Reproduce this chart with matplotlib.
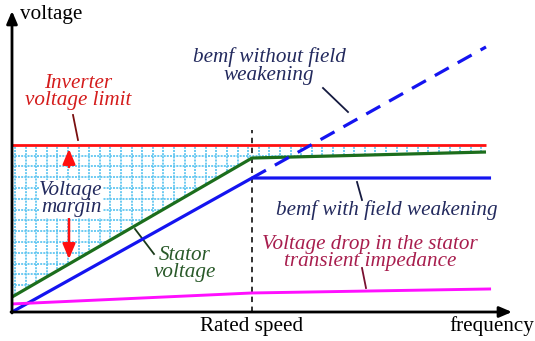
import numpy as np
import matplotlib
matplotlib.use("Agg")
import matplotlib.pyplot as plt
from matplotlib.patches import Polygon
from matplotlib.collections import LineCollection

plt.rcParams['font.family'] = ['Liberation Serif', 'DejaVu Serif']

# ---- data (frequency in p.u. of rated speed, voltage in p.u. of rated bemf) ----
freq_limit = [0.0, 1.975]
inverter_limit = [1.246, 1.246]

freq_stator = [0.0, 1.0, 1.975]
stator_voltage = [0.112, 1.149, 1.194]

freq_bemf_fw = [0.0, 1.0, 1.996]
bemf_with_fw = [0.0, 1.0, 1.0]

freq_bemf_nofw = [1.0, 1.975]
bemf_without_fw = [1.0, 1.978]

freq_drop = [0.0, 1.0, 1.996]
voltage_drop = [0.06, 0.142, 0.172]

rated_speed = 1.0

# ---- layout helpers (pixel -> data), origin at pixel (12, 312) ----
PX_X = 240.0
PX_Y = 134.0
def P(x, y):
    return ((x - 12) / PX_X, (312 - y) / PX_Y)

fig = plt.figure(figsize=(5.35, 3.41), dpi=100)
ax = fig.add_axes([0, 0, 1, 1])
ax.set_xlim(-12 / PX_X, 523 / PX_X)
ax.set_ylim((312 - 341) / PX_Y, 312 / PX_Y)
ax.axis('off')

# ---- hatched (grid) voltage margin region ----
lower = np.column_stack([freq_stator, stator_voltage])
upper = np.column_stack([freq_limit, inverter_limit])[::-1]
region = Polygon(np.vstack([lower, upper]), closed=True, fc='none', ec='none')
ax.add_patch(region)
grid_col = '#55c2f0'
gx = np.arange(3 / PX_X, 2.0, 10.6 / PX_X)
gy = np.arange(1.246 - 10.6 / PX_Y, 0.0, -10.8 / PX_Y)
segs = [[(x, -1), (x, 3)] for x in gx] + [[(-1, y), (3, y)] for y in gy]
lc = LineCollection(segs, colors=grid_col, linewidths=1.2, linestyles=(0, (1.2, 0.7)), zorder=1)
ax.add_collection(lc)
lc.set_clip_path(region)

# ---- curves ----
ax.plot(freq_limit, inverter_limit, color='#ff1010', lw=2.0, zorder=3, solid_capstyle='butt')
ax.plot(freq_stator, stator_voltage, color='#1c6e1c', lw=2.3, zorder=3, solid_capstyle='butt')
ax.plot(freq_bemf_fw, bemf_with_fw, color='#1414f0', lw=2.3, zorder=3, solid_capstyle='butt')
ax.plot(freq_bemf_nofw, bemf_without_fw, color='#1414f0', lw=2.3, zorder=3,
        linestyle=(0, (5, 3.2)))
ax.plot(freq_drop, voltage_drop, color='#ff10ff', lw=2.1, zorder=3, solid_capstyle='butt')

# rated speed marker
ax.plot([rated_speed, rated_speed], [P(0, 312)[1], P(0, 130)[1]], color='#222222',
        lw=1.3, linestyle=(0, (3, 2.5)), zorder=2)

# ---- axes arrows ----
arrow_kw = dict(arrowstyle='-|>,head_length=0.75,head_width=0.32', color='black', lw=2.0,
                shrinkA=0, shrinkB=0)
ax.annotate('', xy=P(512, 312), xytext=P(11, 312), arrowprops=arrow_kw, zorder=5)
ax.annotate('', xy=P(12, 11), xytext=P(12, 313), arrowprops=arrow_kw, zorder=5)

# ---- voltage margin arrows ----
red_kw = dict(arrowstyle='-|>,head_length=0.9,head_width=0.38', color='#ff1010', lw=1.8,
              shrinkA=0, shrinkB=0)
ax.annotate('', xy=P(69, 149), xytext=P(69, 167), arrowprops=red_kw, zorder=4)
ax.annotate('', xy=P(69, 259), xytext=P(69, 219), arrowprops=red_kw, zorder=4)

# ---- text ----
FS = 15.2
LS = 0.88
navy = '#232a5e'
ax.text(*P(20, 15), 'voltage', fontsize=FS, ha='left', va='center', color='black')
ax.text(*P(252, 327), 'Rated speed', fontsize=FS, ha='center', va='center', color='black')
ax.text(*P(534, 326), 'frequency', fontsize=FS, ha='right', va='center', color='black')

ax.text(*P(78, 92), 'Inverter\nvoltage limit', fontsize=FS, style='italic', ha='center',
        va='center', color='#d41c1c', linespacing=LS)
ax.plot(*zip(P(73, 115), P(78, 140)), color='#7a1010', lw=1.3)

ax.text(*P(269, 66), 'bemf without field\nweakening', fontsize=FS, style='italic', ha='center',
        va='center', color=navy, linespacing=LS)
ax.plot(*zip(P(323, 88), P(348, 112)), color='#151a40', lw=1.3)

ax.text(*P(71, 199), 'Voltage\nmargin', fontsize=FS, style='italic', ha='center',
        va='center', color=navy, linespacing=LS, zorder=4,
        bbox=dict(fc='white', ec='none', pad=0.3))

ax.text(*P(185, 264), 'Stator\nvoltage', fontsize=FS, style='italic', ha='center',
        va='center', color='#2a5a2a', linespacing=LS)
ax.plot(*zip(P(135, 229), P(154, 254)), color='#1a3a1a', lw=1.3)

ax.text(*P(387, 210), 'bemf with field weakening', fontsize=FS, style='italic', ha='center',
        va='center', color=navy)
ax.plot(*zip(P(357, 182), P(362, 200)), color='#151a40', lw=1.3)

ax.text(*P(370, 253), 'Voltage drop in the stator\ntransient impedance', fontsize=FS,
        style='italic', ha='center', va='center', color='#a81e4e', linespacing=LS)
ax.plot(*zip(P(362, 268), P(366, 288)), color='#7a1030', lw=1.3)

fig.savefig('out.png', dpi=100)
